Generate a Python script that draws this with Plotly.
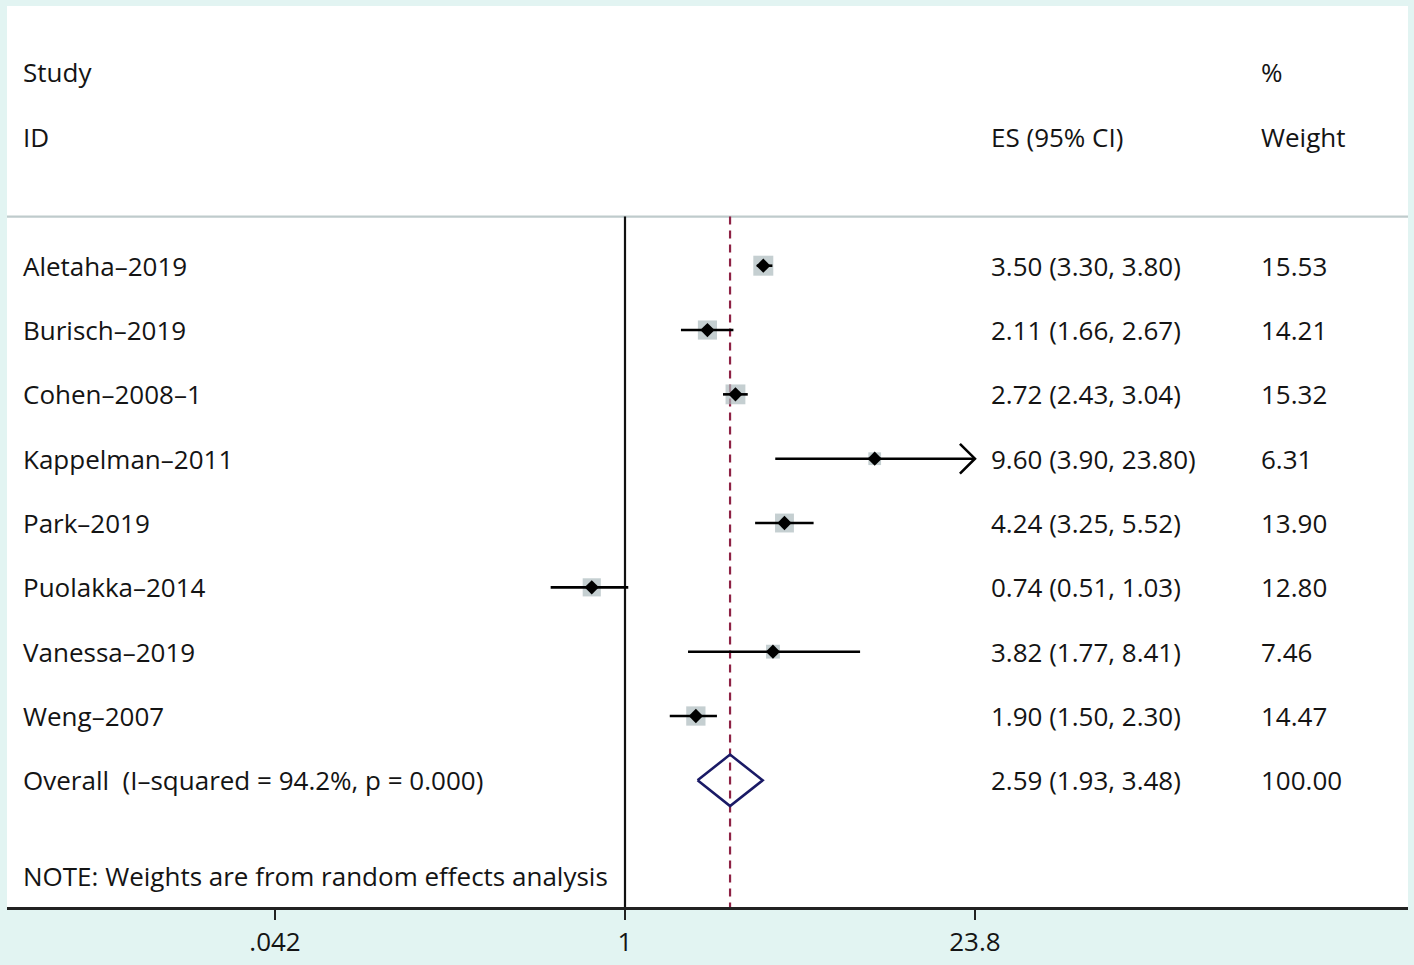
import plotly.graph_objects as go
import numpy as np

# ---------------- data ----------------
studies = ["Aletaha–2019", "Burisch–2019", "Cohen–2008–1", "Kappelman–2011",
           "Park–2019", "Puolakka–2014", "Vanessa–2019", "Weng–2007"]
es = [3.50, 2.11, 2.72, 9.60, 4.24, 0.74, 3.82, 1.90]
ci_lo = [3.30, 1.66, 2.43, 3.90, 3.25, 0.51, 1.77, 1.50]
ci_hi = [3.80, 2.67, 3.04, 23.80, 5.52, 1.03, 8.41, 2.30]
weights = [15.53, 14.21, 15.32, 6.31, 13.90, 12.80, 7.46, 14.47]
overall_label = "Overall  (I–squared = 94.2%, p = 0.000)"
overall_es, overall_lo, overall_hi = 2.59, 1.93, 3.48
overall_weight = 100.00
tick_vals = [0.042, 1, 23.8]
tick_text = [".042", "1", "23.8"]
note = "NOTE: Weights are from random effects analysis"

# ---------------- layout helpers ----------------
FONT = "Open Sans"
FS = 26
TXT = "#141414"
BG = "#e2f4f2"
W, H = 1414, 965
ml, mr, mt, mb = 7, 6, 6, 50
plot_w = W - ml - mr
row_px = 64.9
y_top, y_bot = -3.037, 10.969
px_per_dec = 254.2
x1_px = 625 - ml  # pixel of value 1 inside plot area
x_min = -x1_px / px_per_dec
x_max = (plot_w - x1_px) / px_per_dec

def px_to_paper(px):
    return (px - ml) / plot_w

n = len(studies)
rows = list(range(1, n + 1))
overall_row = n + 1
sep_row = 0.237
axis_max = max(tick_vals)

fig = go.Figure()

# weight boxes
fig.add_trace(go.Scatter(
    x=es, y=rows, mode="markers",
    marker=dict(symbol="square", size=[5.07 * np.sqrt(w) for w in weights],
                color="#adbbbd", line=dict(width=0)),
    hoverinfo="skip", showlegend=False))

# CI lines (clipped at axis max, arrow if clipped)
cx, cy = [], []
ax_, ay_ = [], []
for r, lo, hi in zip(rows, ci_lo, ci_hi):
    hi_c = min(hi, axis_max)
    cx += [lo, hi_c, None]
    cy += [r, r, None]
    if hi >= axis_max:
        back = 10 ** (np.log10(hi_c) - 15 / px_per_dec)
        ax_ += [back, hi_c, back, None]
        ay_ += [r - 15 / row_px, r, r + 15 / row_px, None]
fig.add_trace(go.Scatter(x=cx, y=cy, mode="lines",
                         line=dict(color="#000000", width=2.6),
                         hoverinfo="skip", showlegend=False))
if ax_:
    fig.add_trace(go.Scatter(x=ax_, y=ay_, mode="lines",
                             line=dict(color="#000000", width=2.6),
                             hoverinfo="skip", showlegend=False))

# point estimates
fig.add_trace(go.Scatter(
    x=es, y=rows, mode="markers",
    marker=dict(symbol="diamond", size=11, color="#000000", line=dict(width=0)),
    hoverinfo="skip", showlegend=False))

# overall diamond
hh = 26 / row_px
fig.add_trace(go.Scatter(
    x=[overall_lo, overall_es, overall_hi, overall_es, overall_lo],
    y=[overall_row, overall_row - hh, overall_row, overall_row + hh, overall_row],
    mode="lines", line=dict(color="#1a1a66", width=2.6),
    hoverinfo="skip", showlegend=False))

shapes = [
    dict(type="line", xref="paper", yref="y", x0=0, x1=1, y0=sep_row, y1=sep_row,
         line=dict(color="#bfcbcc", width=2.2), layer="below"),
    dict(type="line", xref="x", yref="y", x0=1, x1=1, y0=sep_row, y1=y_bot,
         line=dict(color="#111111", width=2.2), layer="below"),
    dict(type="line", xref="x", yref="y", x0=overall_es, x1=overall_es, y0=sep_row, y1=y_bot,
         line=dict(color="#8e2245", width=2.2, dash="8px,6px"), layer="below"),
]

annotations = []
def txt(xpx, row, s):
    annotations.append(dict(xref="paper", yref="y", x=px_to_paper(xpx - 2), y=row, text=s,
                            showarrow=False, xanchor="left", yanchor="middle",
                            font=dict(family=FONT, size=FS, color=TXT)))

col_study, col_es, col_w = 23, 991, 1261
txt(col_study, -2.005, "Study")
txt(col_study, -1.003, "ID")
txt(col_es, -1.003, "ES (95% CI)")
txt(col_w, -2.005, "%")
txt(col_w, -1.003, "Weight")
for r, s, e, lo, hi, w in zip(rows, studies, es, ci_lo, ci_hi, weights):
    txt(col_study, r, s)
    txt(col_es, r, f"{e:.2f} ({lo:.2f}, {hi:.2f})")
    txt(col_w, r, f"{w:.2f}")
txt(col_study, overall_row, overall_label)
txt(col_es, overall_row, f"{overall_es:.2f} ({overall_lo:.2f}, {overall_hi:.2f})")
txt(col_w, overall_row, f"{overall_weight:.2f}")
txt(col_study, 10.49, note)

fig.update_layout(
    width=W, height=H,
    margin=dict(l=ml, r=mr, t=mt, b=mb, pad=0),
    paper_bgcolor=BG, plot_bgcolor="#ffffff",
    shapes=shapes, annotations=annotations,
    xaxis=dict(type="log", range=[x_min, x_max], tickvals=tick_vals, ticktext=tick_text,
               ticks="outside", ticklen=10, tickwidth=2, tickcolor="#222222",
               showline=True, linecolor="#222222", linewidth=2.5,
               showgrid=False, zeroline=False, fixedrange=True,
               tickfont=dict(family=FONT, size=FS, color=TXT)),
    yaxis=dict(range=[y_bot, y_top], visible=False, showgrid=False, zeroline=False,
               fixedrange=True),
)

post = (
    "document.body.style.margin='0';"
    "document.body.style.padding='0';"
    "document.body.style.overflow='hidden';"
    "document.body.style.background='" + BG + "';"
)
fig.write_html("out.html", config={"displayModeBar": False}, post_script=post)
